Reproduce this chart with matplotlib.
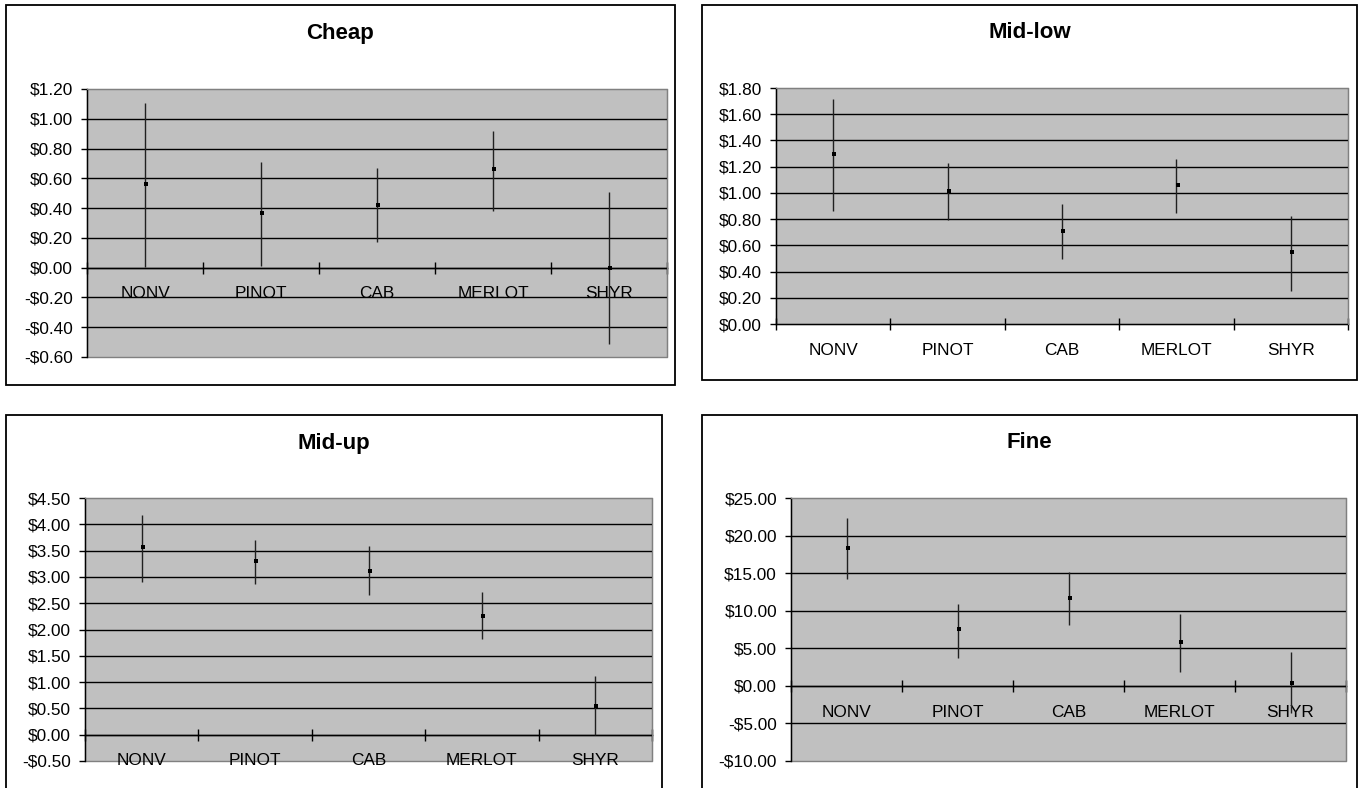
import matplotlib
matplotlib.use("Agg")
import matplotlib.pyplot as plt
from matplotlib.patches import Rectangle
import numpy as np

plt.rcParams['font.family'] = ['Liberation Sans', 'DejaVu Sans']

# ---------------- data ----------------
categories = ["NONV", "PINOT", "CAB", "MERLOT", "SHYR"]

titles = ["Cheap", "Mid-low", "Mid-up", "Fine"]

cheap_mean = [0.56, 0.365, 0.42, 0.665, 0.0]
cheap_high = [1.105, 0.71, 0.668, 0.92, 0.51]
cheap_low = [0.006, 0.013, 0.175, 0.383, -0.515]

midlow_mean = [1.296, 1.016, 0.713, 1.057, 0.547]
midlow_high = [1.718, 1.23, 0.917, 1.258, 0.822]
midlow_low = [0.86, 0.79, 0.496, 0.85, 0.255]

midup_mean = [3.56, 3.306, 3.12, 2.265, 0.552]
midup_high = [4.175, 3.706, 3.58, 2.72, 1.11]
midup_low = [2.90, 2.868, 2.665, 1.81, 0.0]

fine_mean = [18.36, 7.51, 11.65, 5.82, 0.40]
fine_high = [22.32, 10.85, 15.2, 9.56, 4.45]
fine_low = [14.27, 3.73, 8.05, 1.87, -3.65]

# y-axis ranges (min, max, step)
cheap_axis = (-0.6, 1.2, 0.2)
midlow_axis = (0.0, 1.8, 0.2)
midup_axis = (-0.5, 4.5, 0.5)
fine_axis = (-10.0, 25.0, 5.0)

# ---------------- layout (pixels) ----------------
W, H = 1361, 788
fig = plt.figure(figsize=(W / 100, H / 100), dpi=100)
fig.patch.set_facecolor("white")

panels = [
    dict(title=titles[0], mean=cheap_mean, hi=cheap_high, lo=cheap_low, axis=cheap_axis,
         plot=(87, 89, 667, 357), frame=(5.5, 5, 675, 385), ty=33),
    dict(title=titles[1], mean=midlow_mean, hi=midlow_high, lo=midlow_low, axis=midlow_axis,
         plot=(776, 88, 1348, 324), frame=(702, 5, 1357, 380), ty=33),
    dict(title=titles[2], mean=midup_mean, hi=midup_high, lo=midup_low, axis=midup_axis,
         plot=(85, 498, 652, 761), frame=(5.5, 415, 662, 800), ty=443),
    dict(title=titles[3], mean=fine_mean, hi=fine_high, lo=fine_low, axis=fine_axis,
         plot=(791, 498, 1346, 761), frame=(702, 415, 1357, 800), ty=443),
]


def money(v, _=None):
    if v < -1e-9:
        return "-${:.2f}".format(-v)
    return "${:.2f}".format(abs(v))


LABEL_FS = 12.4
GRAY_BORDER = "#808080"

for p in panels:
    fx0, fy0, fx1, fy1 = p["frame"]
    fig.add_artist(Rectangle((fx0 / W, 1 - fy1 / H), (fx1 - fx0) / W, (fy1 - fy0) / H,
                             transform=fig.transFigure, fill=False, edgecolor="black",
                             linewidth=1.3, zorder=0))
    fig.text(((fx0 + fx1) / 2) / W, 1 - p["ty"] / H, p["title"], ha="center", va="center",
             fontsize=16, fontweight="bold")

    x0, y0, x1, y1 = p["plot"]
    ax = fig.add_axes([x0 / W, 1 - y1 / H, (x1 - x0) / W, (y1 - y0) / H])
    ax.set_facecolor("#C0C0C0")

    ymin, ymax, step = p["axis"]
    yt = np.arange(ymin, ymax + step / 2, step)
    ax.set_ylim(ymin, ymax)
    ax.set_xlim(0, len(categories))

    # gridlines (interior major ticks)
    for t in yt[1:-1]:
        ax.axhline(t, color="black", linewidth=1.0, zorder=1)

    ax.set_yticks(yt)
    ax.yaxis.set_major_formatter(plt.FuncFormatter(money))
    ax.tick_params(axis="y", direction="out", length=4.3, width=1, pad=5.8,
                   labelsize=LABEL_FS, colors="black")

    # category axis at zero
    ax.spines["bottom"].set_position(("data", 0))
    ax.spines["bottom"].set_color("black")
    ax.spines["bottom"].set_linewidth(1.0)
    ax.spines["bottom"].set_zorder(2)
    ax.spines["left"].set_color("black")
    ax.spines["left"].set_linewidth(1.0)
    ax.spines["top"].set_color(GRAY_BORDER)
    ax.spines["right"].set_color(GRAY_BORDER)
    ax.add_patch(Rectangle((0, 0), 1, 1, transform=ax.transAxes, fill=False,
                           edgecolor=GRAY_BORDER, linewidth=1.0, zorder=0.5, clip_on=False))

    xc = np.arange(len(categories)) + 0.5
    ax.set_xticks(np.arange(len(categories) + 1))
    ax.set_xticklabels([])
    ax.set_xticks(xc, minor=True)
    ax.set_xticklabels(categories, minor=True)
    ax.tick_params(axis="x", which="major", direction="inout", length=8.6, width=1, color="black")
    ax.tick_params(axis="x", which="minor", length=0, pad=13.5, labelsize=LABEL_FS)

    mean = np.array(p["mean"])
    hi = np.array(p["hi"])
    lo = np.array(p["lo"])
    ax.errorbar(xc, mean, yerr=[mean - lo, hi - mean], fmt="none", ecolor="#202020",
                elinewidth=1.0, capsize=0, zorder=3)
    ax.plot(xc + 0.01, mean, linestyle="none", marker="s", markersize=2.6,
            markeredgewidth=0, color="black", zorder=4)

fig.savefig("out.png", dpi=100, facecolor="white")
